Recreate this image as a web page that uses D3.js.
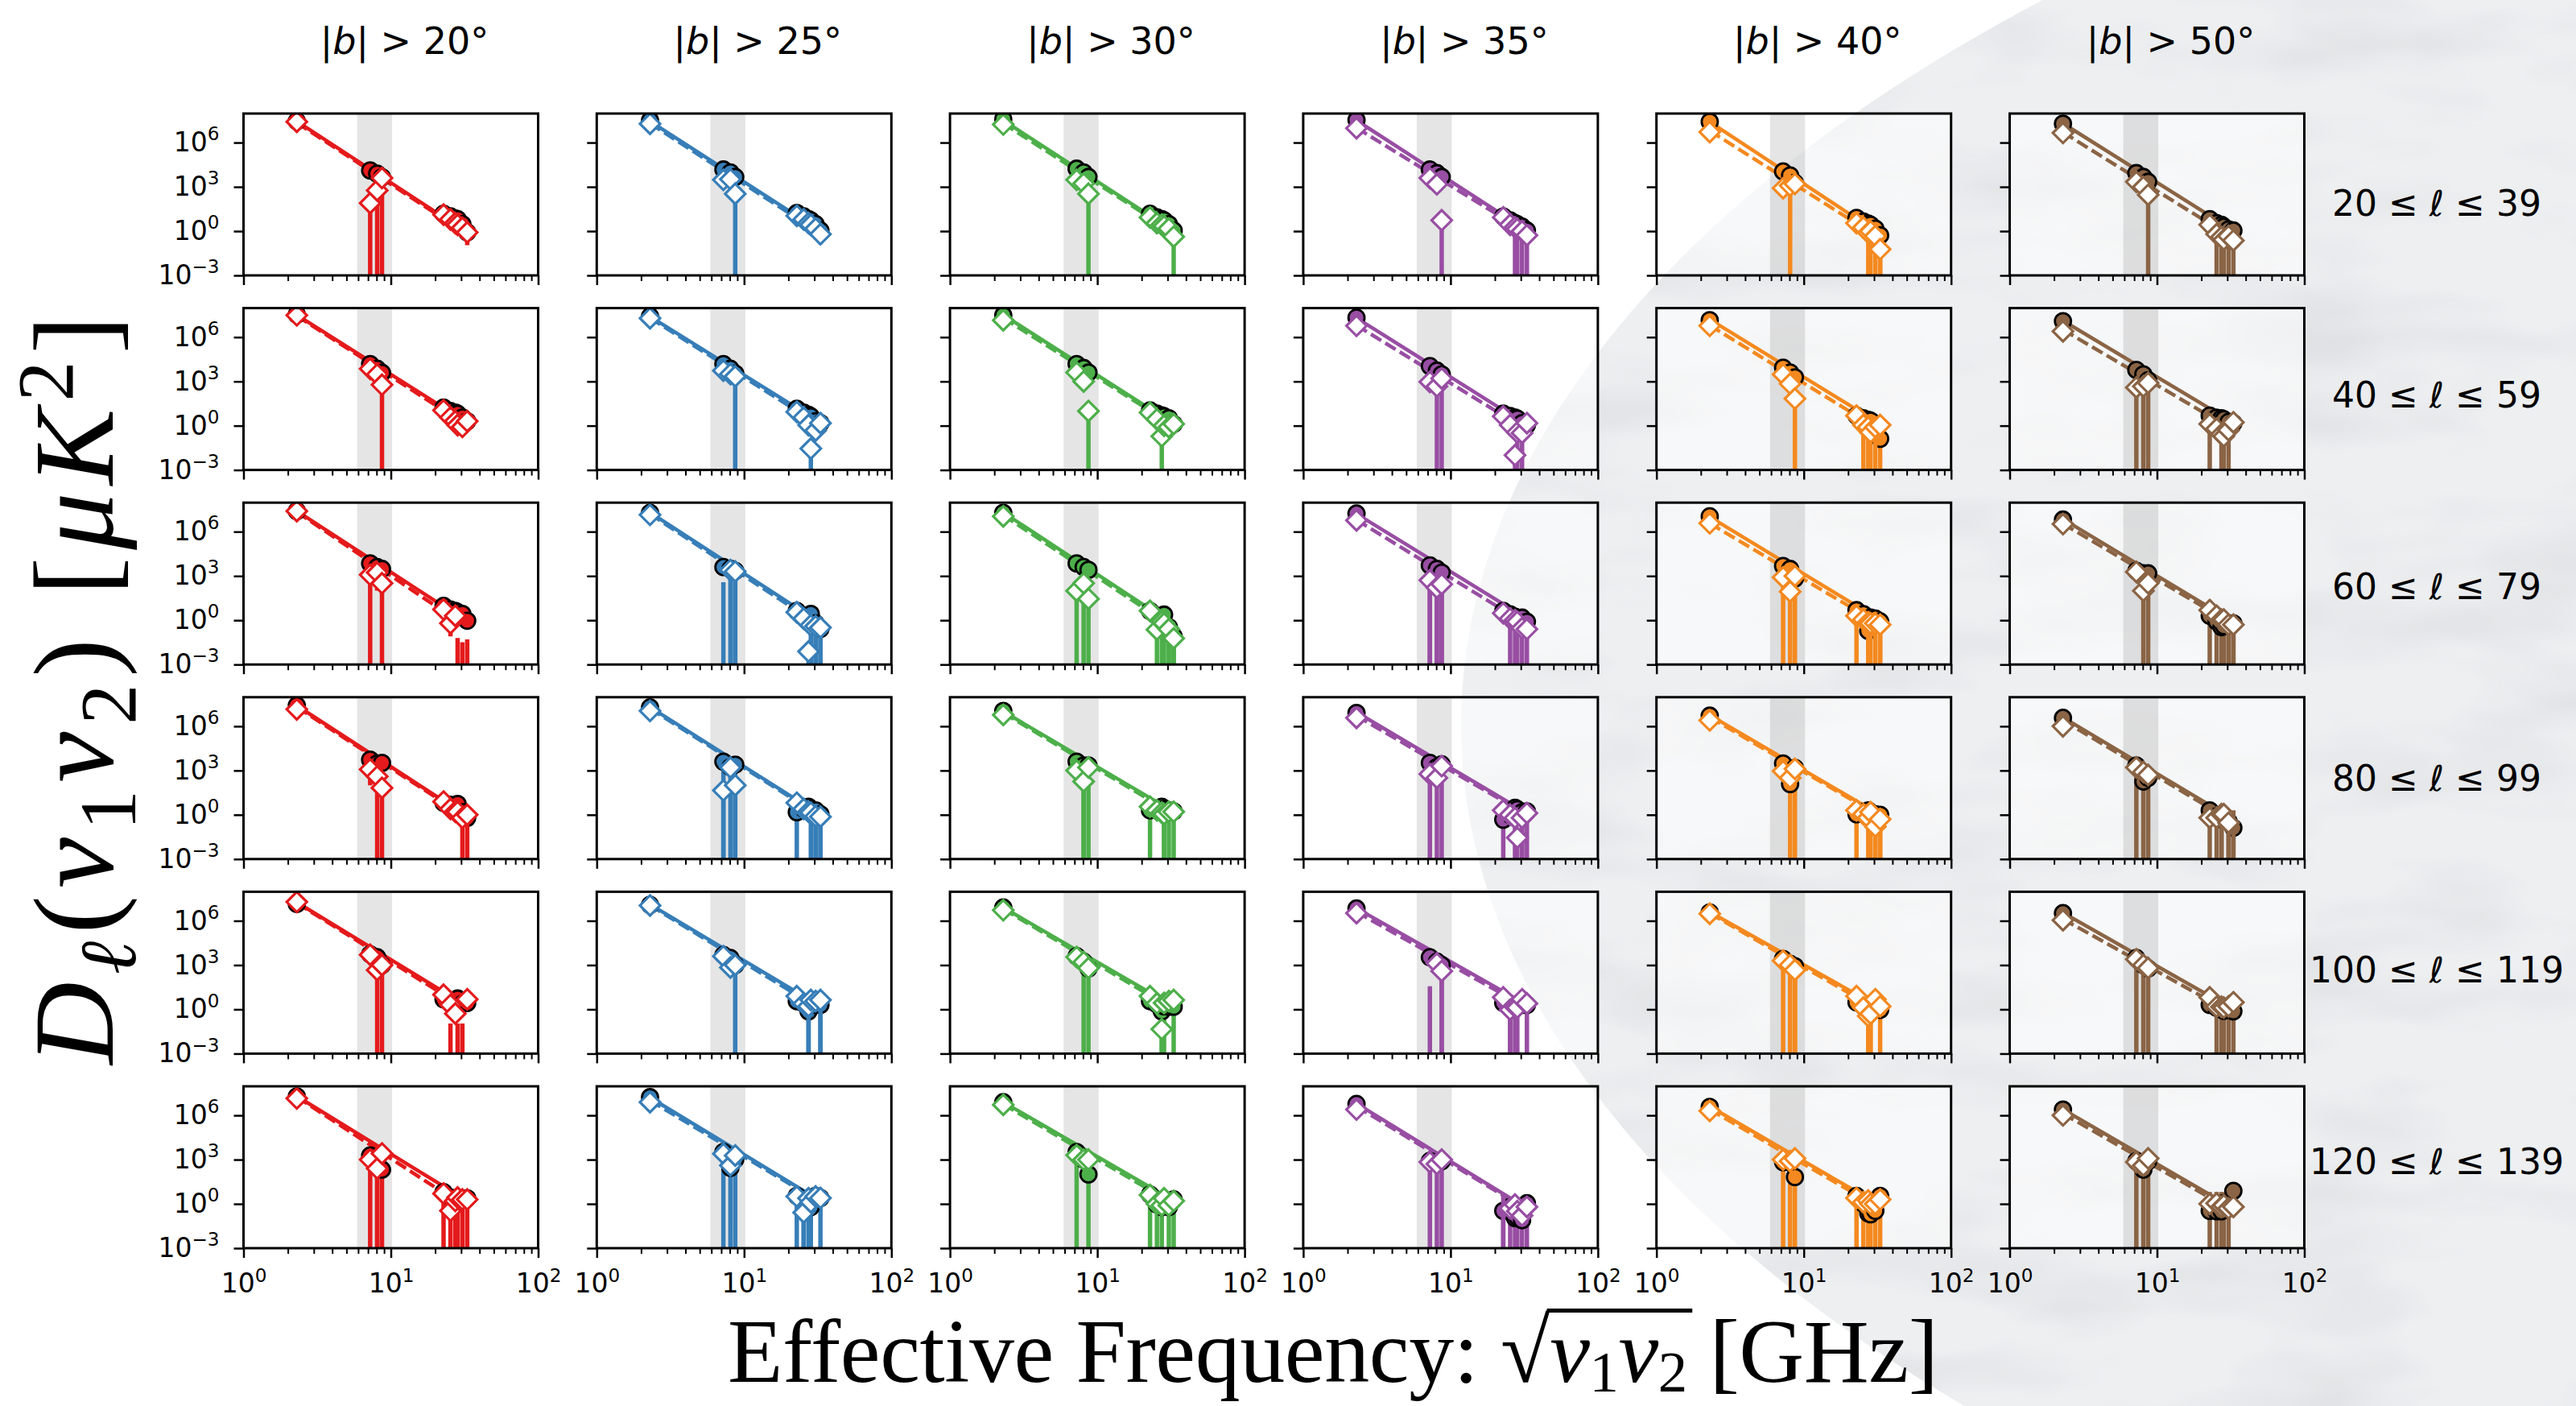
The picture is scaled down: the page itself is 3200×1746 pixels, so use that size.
<!DOCTYPE html>
<html>
<head>
<meta charset="utf-8">
<script src="https://cdn.jsdelivr.net/npm/d3@7"></script>
<style>
  body { margin: 0; background: #fff; }
  svg { display: block; }
</style>
</head>
<body>
<script>
// ---------------------------------------------------------------------------
// Cross-spectra amplitude D_ell versus effective frequency sqrt(nu1*nu2),
// one panel per (multipole bin, latitude cut).
// ---------------------------------------------------------------------------

// Effective frequencies of the spectra [GHz]
const freqs = [2.3, 7.24, 8.08, 8.71, 22.8, 25.4, 27.4, 28.4, 30.6, 33.0];
// Shaded frequency window [GHz]
const bandGHz = [5.9, 10.2];

// Latitude cuts (columns) and multipole bins (rows)
const latCuts = [20, 25, 30, 35, 40, 50];
const ellBins = [[20, 39], [40, 59], [60, 79], [80, 99], [100, 119], [120, 139]];
const cutColors = ["#e41a1c", "#377eb8", "#4daf4a", "#984ea3", "#f4891f", "#8a6445"];

// Axis ticks
const yTicks = [1e-3, 1, 1e3, 1e6];
const xMajor = [1, 10, 100];
const xMinor = [2, 3, 4, 5, 6, 7, 8, 9, 20, 30, 40, 50, 60, 70, 80, 90];

// Circle series: values [uK^2], indexed [ell bin][lat cut][frequency]
const circleVal = [
  [[2.8e7,1.3e4,7.9e3,4.5e3,15,10,7.2,6.5,3.0,0.83],
   [3.2e7,1.5e4,9.5e3,4.7e3,17,10,6.5,5.4,3.0,1.1],
   [3.9e7,1.7e4,9.5e3,4.7e3,15,8.5,6.5,5.4,3.0,1.1],
   [3.4e7,1.5e4,8.5e3,4.7e3,9.8,5.4,3.5,3.0,2.0,1.1],
   [2.6e7,1.1e4,6.0e3,1.9e3,7.8,4.5,3.2,2.7,1.5,0.52],
   [1.9e7,8.5e3,4.7e3,2.2e3,6.5,3.5,2.7,2.0,1.3,1.1]],
  [[3.4e7,1.5e4,7.2e3,3.8e3,17,9.8,7.8,6.5,3.6,2.0],
   [2.6e7,1.5e4,7.2e3,3.4e3,14,7.8,5.4,4.3,2.0,1.5],
   [3.0e7,1.5e4,8.1e3,4.0e3,11,6.5,5.0,4.3,3.2,1.3],
   [2.1e7,1.1e4,5.4e3,3.0e3,6.5,4.5,3.6,3.0,1.5,1.1],
   [1.4e7,8.5e3,4.0e3,1.9e3,4.8,3.2,2.5,2.2,0.63,0.13],
   [1.2e7,6.0e3,3.0e3,1.2e3,4.8,3.5,3.2,2.7,1.8,1.5]],
  [[2.5e7,7.1e3,4.0e3,3.0e3,9.5,5.4,4.3,3.6,2.7,0.93],
   [1.9e7,4.0e3,3.0e3,2.2e3,4.3,2.0,1.4,2.7,0.62,0.26],
   [1.9e7,7.1e3,4.0e3,2.6e3,4.3,2.0,1.6,2.4,0.34,0.079],
   [1.7e7,5.2e3,3.0e3,1.7e3,4.3,2.5,1.7,1.1,1.5,0.79],
   [1.1e7,4.7e3,3.0e3,680,4.8,2.6,0.19,1.5,1.3,0.83],
   [6.6e6,2.2e3,1.5e3,1.5e3,2.0,0.83,0.34,0.41,0.62,0.62]],
  [[2.6e7,5.4e3,3.0e3,3.3e3,6.5,4.8,4.3,5.4,1.5,0.62],
   [1.9e7,4.0e3,1.7e3,2.5e3,1.5,2.5,3.5,2.5,2.0,1.1],
   [1.1e7,4.0e3,2.2e3,2.2e3,2.0,2.5,3.5,2.5,2.0,1.7],
   [7.9e6,3.3e3,1.7e3,2.6e3,0.47,1.0,3.0,2.4,1.5,1.7],
   [5.2e6,3.0e3,120,1.5e3,1.1,1.6,2.0,1.4,1.1,1.0],
   [3.7e6,2.2e3,180,320,2.0,0.79,0.5,0.47,0.35,0.13]],
  [[1.4e7,5.4e3,3.4e3,1.0e3,4.8,-0.11,2.0,5.4,2.4,2.7],
   [1.2e7,4.8e3,3.0e3,1.0e3,3.6,2.5,0.74,2.0,2.0,2.0],
   [7.9e6,4.0e3,1.7e3,580,3.6,2.2,0.74,1.6,1.5,1.5],
   [6.8e6,3.4e3,1.7e3,1.0e3,2.7,1.6,1.3,2.0,2.0,2.0],
   [3.7e6,2.6e3,1.2e3,830,3.0,1.6,1.0,1.3,1.0,0.93],
   [3.3e6,3.0e3,1.0e3,580,2.0,1.3,1.0,0.79,1.0,0.74]],
  [[1.9e7,1.9e3,510,210,6.3,2.7,2.0,1.6,2.4,2.4],
   [1.7e7,3.3e3,280,1.0e3,3.5,2.0,1.3,0.62,3.5,2.5],
   [7.8e6,3.3e3,1.0e3,100,4.3,0.93,0.62,2.0,0.62,2.0],
   [5.9e6,810,630,790,0.34,0.62,0.11,0.13,0.079,1.1],
   [3.7e6,680,630,66,3.5,1.0,0.23,0.2,0.34,3.5],
   [2.5e6,790,210,790,0.34,0.32,0.32,1.1,0.62,7.6]]
];
// Circle series: 1-sigma errors (0 = negligible)
const circleErr = [
  [[0,0,0,0,0,0,0,0,0,0],
   [0,0,0,0,0,0,0,0,0,0],
   [0,0,0,0,0,0,0,0,0,0],
   [0,0,0,0,0,0,0,0,0,0],
   [0,0,0,0,0,0,0,0,0,1.0],
   [0,0,0,0,0,0,0,0,0,0]],
  [[0,0,0,0,0,0,0,0,0,0],
   [0,0,0,0,0,0,0,0,0,0],
   [0,0,0,0,0,0,0,0,0,0],
   [0,0,0,0,0,0,0,0,0,0],
   [0,0,0,0,0,0,0,0,0,0.26],
   [0,0,0,0,0,0,0,0,0,0]],
  [[0,0,0,0,0,0,0,0,0,0],
   [0,0,6000,4400,0,0,0,0,1.2,0.52],
   [0,0,0,0,0,0,0,0,0.68,0.16],
   [0,10400,6000,3400,0,0,0,0,0,0],
   [0,0,0,0,0,0,0.38,0,0,1.7],
   [0,0,0,0,4,1.6,0.68,0.82,1.2,1.2]],
  [[0,0,0,0,0,0,0,0,0,0],
   [0,8000,3400,5000,3.0,0,0,0,4,2.2],
   [0,0,4400,4400,4,0,0,5,4,3.4],
   [0,6600,3400,5200,0.94,0,0,0,3,3.4],
   [0,0,240,3000,2.2,0,0,0,2.2,2],
   [0,4400,360,640,4,1.6,1,0,0.7,0.26]],
  [[0,0,0,0,0,0.22,0,0,0,0],
   [0,0,0,2000,0,0,1.5,0,0,4],
   [0,0,3400,1200,0,0,1.5,3.2,0,3],
   [0,0,0,2000,0,3.2,2.6,4,0,4],
   [0,5200,2400,1700,0,0,2,2.6,0,1.9],
   [0,6000,2000,1200,0,2.6,2,1.6,2,1.5]],
  [[0,3800,1000,420,12.6,5.4,4,3.2,4.8,4.8],
   [0,6600,560,2000,7,4,2.6,1.2,0,5],
   [0,6600,0,200,8.6,1.9,1.2,0,1.2,4],
   [0,1600,1300,1600,0.68,1.2,0.22,0.26,0.16,2.2],
   [0,1400,1300,130,7,2,0.46,0.4,0.68,7],
   [0,1600,420,1600,6.0,6.0,6.0,5.2,5.7,0]]
];

// Diamond series: values [uK^2], indexed [ell bin][lat cut][frequency]
const diamondVal = [
  [[2.6e7,79,580,4.0e3,13,6.3,3.5,2.7,1.7,0.83],
   [1.9e7,3.0e3,3.3e3,340,11,6.3,3.5,2.7,1.5,0.62],
   [1.7e7,3.0e3,1.7e3,340,8.5,3.5,2.7,2.2,1.5,0.42],
   [9.5e6,4.0e3,1.5e3,5.4,8.5,2.7,1.8,1.4,1.0,0.52],
   [5.2e6,810,1.2e3,1.6e3,3.5,1.8,0.79,1.0,0.47,0.059],
   [4.5e6,2.2e3,1.0e3,290,2.7,0.62,0.40,0.26,0.47,0.23]],
  [[3.0e7,7.2e3,3.0e3,590,11,3.6,2.0,1.1,0.83,2.0],
   [1.9e7,5.4e3,3.2e3,2.2e3,8.7,3.6,1.1,0.028,0.47,1.5],
   [1.4e7,4.0e3,1.0e3,9.8,7.8,2.7,0.19,1.0,0.79,1.3],
   [5.9e6,930,460,1.6e3,4.3,1.1,0.010,0.35,0.32,1.5],
   [5.9e6,3.0e3,690,68,4.8,1.1,0.79,0.35,0.79,1.1],
   [2.5e6,390,460,790,1.3,0.63,0.26,0.19,0.5,1.7]],
  [[2.5e7,1.2e3,1.7e3,320,5.4,0.62,2.0,-0.063,-0.032,-0.05],
   [1.4e7,-380,2.5e3,2.0e3,3.5,1.3,0.0076,0.46,0.40,0.32],
   [1.1e7,98,320,28,4.3,0.23,0.79,0.62,0.25,0.059],
   [5.9e6,510,160,280,3.0,1.3,1.0,0.79,0.29,0.25],
   [3.7e6,810,87,1.0e3,2.0,1.1,0.72,0.62,0.62,0.5],
   [3.3e6,1.9e3,98,320,4.8,2.0,1.1,1.1,0.5,0.5]],
  [[1.4e7,1.2e3,400,66,7.8,2.5,1.6,1.6,0.62,1.0],
   [1.1e7,45,1.6e3,100,6.5,2.5,1.6,1.4,0.79,0.74],
   [5.9e6,1.0e3,180,1.6e3,3.5,2.0,1.4,1.1,1.6,1.6],
   [3.7e6,580,320,2.0e3,2.0,1.0,0.62,0.028,0.62,1.3],
   [2.5e6,910,320,1.3e3,2.0,1.1,0.63,1.5,0.16,0.5],
   [1.0e6,1.6e3,790,500,0.63,0.63,1.1,1.1,0.29,-2.0]],
  [[1.9e7,5.0e3,460,1.0e3,9.8,2.0,0.52,-0.11,-0.11,4.8],
   [1.1e7,4.0e3,690,1.0e3,7.8,2.4,1.6,4.3,3.6,4.3],
   [5.2e6,3.5e3,1.6e3,630,7.8,2.5,0.045,2.7,3.6,4.3],
   [3.3e6,-37,1.3e3,390,6.5,0.93,1.5,1.3,4.8,2.5],
   [3.0e6,2.0e3,1.0e3,460,7.8,1.3,0.35,0.5,4.8,1.6],
   [1.1e6,2.5e3,1.0e3,630,6.5,1.5,1.5,1.3,1.6,3.0]],
  [[1.4e7,1.0e3,250,2.6e3,5.0,0.34,1.6,2.7,2.0,2.0],
   [7.8e6,2.5e3,400,1.9e3,3.2,0.26,2.4,1.3,3.2,2.5],
   [5.2e6,2.0e3,1.0e3,1.0e3,4.0,1.0,0.79,2.4,0.79,1.6],
   [2.5e6,680,500,1.0e3,-4.8,0.5,0.91,0.32,0.16,0.63],
   [2.0e6,1.0e3,790,1.2e3,2.5,1.3,1.7,1.0,1.0,2.0],
   [1.0e6,680,400,1.2e3,1.0,1.1,0.63,0.81,0.5,0.63]]
];
// Diamond series: 1-sigma errors (0 = negligible)
const diamondErr = [
  [[0,160,1200,8000,0,0,0,0,0,0.72],
   [0,0,0,680,0,0,0,0,0,0.49],
   [0,0,0,680,0,0,0,0,0,0.84],
   [0,0,0,11,0,0,3.6,2.8,2,1.0],
   [0,0,2400,0,0,0,1.6,2,0.94,0.12],
   [0,0,0,580,0,1.2,0.8,0.52,0.94,0.46]],
  [[0,0,0,1200,0,0,0,0,0,0],
   [0,0,0,4400,0,0,0,0.056,0,0],
   [0,0,0,20,0,0,0.4,0,0,0],
   [0,0,920,3200,0,0,0.02,0.7,0.64,0],
   [0,0,0,140,0,2.2,1.6,0.7,1.6,0],
   [0,780,920,1600,2.6,0,0.52,0.4,1.0,0]],
  [[0,2400,1600,640,0,0.54,0,0.126,0.064,0.1],
   [0,760,0,4000,0,0,0.015,0.92,0.8,0.64],
   [0,200,640,56,0,0.46,1.6,1.2,0.5,0.12],
   [0,1000,320,560,0,2.6,2,1.6,0.58,0.5],
   [0,1600,170,2000,4,0,1.4,1.2,1.2,1.0],
   [0,0,200,640,0,0,0,0,1.0,1.0]],
  [[0,1100,800,130,0,0,0,0,1.2,2],
   [0,90,0,200,0,0,0,2.8,1.6,1.5],
   [0,0,360,0,0,0,0,2.2,0,0],
   [0,0,0,0,0,0,1.2,0.056,1.2,0],
   [0,0,0,0,0,0,1.3,3,0.32,1],
   [0,0,0,0,0,0,2.2,0,0.58,4.0]],
  [[0,0,920,2000,0,0,0,0.22,0.22,0],
   [0,0,0,0,0,0,3.2,0,0,8.6],
   [0,0,0,0,0,0,0.09,0,0,0],
   [0,74,0,780,0,1.9,0,0,0,0],
   [0,0,0,920,0,0,0.7,1,0,0],
   [0,0,0,0,0,0,0,0,0,0]],
  [[0,0,500,0,0,0,0,0,0,0],
   [0,0,0,0,0,0.52,0,0,0,0],
   [0,0,0,0,0,0,0,0,0,0],
   [0,0,0,0,9.6,0,0,0,0,0],
   [0,0,0,0,0,0,0,0,0,0],
   [0,0,0,0,0,0,0,0,0,0]]
];

// Power-law fits: model value at the lowest and highest effective frequency
const solidFit = [
  [[2.8e7,0.79],[2.8e7,1.0],[3.2e7,1.0],[3.2e7,1.1],[2.5e7,0.63],[2.0e7,1.1]],
  [[3.2e7,1.6],[2.5e7,1.6],[3.2e7,1.3],[2.0e7,1.1],[1.6e7,1.3],[1.3e7,1.6]],
  [[2.5e7,0.79],[2.0e7,0.63],[2.0e7,0.5],[1.6e7,1.3],[1.0e7,1.0],[7.1e6,0.79]],
  [[2.5e7,0.79],[2.0e7,1.0],[1.0e7,1.6],[8.9e6,1.3],[5.6e6,1.0],[4.0e6,0.5]],
  [[1.8e7,1.6],[1.3e7,1.6],[7.9e6,1.6],[7.1e6,2.0],[4.0e6,1.3],[3.5e6,1.0]],
  [[2.0e7,1.6],[1.6e7,1.6],[7.9e6,1.6],[6.3e6,0.5],[4.0e6,0.79],[2.5e6,0.5]]
];
const dashedFit = [
  [[2.2e7,0.63],[2.0e7,0.71],[2.0e7,0.79],[1.0e7,0.79],[6.3e6,0.32],[5.0e6,0.32]],
  [[2.8e7,1.0],[2.0e7,1.0],[2.0e7,1.0],[6.3e6,0.5],[6.3e6,0.5],[3.2e6,0.5]],
  [[2.2e7,0.32],[1.6e7,0.4],[1.3e7,0.32],[6.3e6,0.5],[3.7e6,0.5],[3.5e6,0.5]],
  [[2.0e7,0.63],[1.6e7,0.79],[7.9e6,1.1],[5.0e6,1.0],[4.0e6,0.79],[2.5e6,0.32]],
  [[1.6e7,1.0],[1.1e7,1.0],[6.3e6,1.0],[4.0e6,1.3],[3.2e6,0.79],[1.3e6,0.5]],
  [[1.8e7,0.5],[1.0e7,1.3],[5.6e6,1.0],[4.0e6,0.4],[2.5e6,0.5],[1.3e6,0.32]]
];

// ---------------------------------------------------------------------------
// Layout
// ---------------------------------------------------------------------------
const W = 3200, H = 1746;
const panelW = 366, panelH = 201;
const left0 = 302.5, colStep = 438.8;
const top0 = 141, rowStep = 241.6;
const yDomain = [1e-3, 9.3e7];

const x = d3.scaleLog().domain([1, 100]).range([0, panelW]);
const y = d3.scaleLog().domain(yDomain).range([panelH, 0]);

const svg = d3.select("body").append("svg")
  .attr("width", W).attr("height", H)
  .attr("xmlns", "http://www.w3.org/2000/svg");

svg.append("rect").attr("width", W).attr("height", H).attr("fill", "#ffffff");

const defs = svg.append("defs");

// Streaky texture for the sky-map backdrop
const tex = defs.append("filter").attr("id", "streaks")
  .attr("filterUnits", "userSpaceOnUse")
  .attr("x", 0).attr("y", 0).attr("width", W).attr("height", H);
tex.append("feTurbulence").attr("type", "fractalNoise")
  .attr("baseFrequency", "0.004 0.011").attr("numOctaves", 3).attr("seed", 11)
  .attr("result", "noise");
tex.append("feColorMatrix").attr("in", "noise").attr("type", "matrix")
  .attr("values", "0 0 0 0 0.45  0 0 0 0 0.46  0 0 0 0 0.48  0.5 0 0 0 -0.22")
  .attr("result", "streak");
tex.append("feComposite").attr("in", "streak").attr("in2", "SourceGraphic").attr("operator", "in");

defs.append("clipPath").attr("id", "axclip")
  .append("rect").attr("width", panelW).attr("height", panelH);

// Backdrop: part of an all-sky map in an elliptical projection
const sky = { cx: 4501, cy: 900, rx: 2686, ry: 1319 };
svg.append("ellipse").attr("cx", sky.cx).attr("cy", sky.cy).attr("rx", sky.rx).attr("ry", sky.ry)
  .attr("fill", "#edeff1");
svg.append("ellipse").attr("cx", sky.cx).attr("cy", sky.cy).attr("rx", sky.rx).attr("ry", sky.ry)
  .attr("fill", "#000").attr("filter", "url(#streaks)");

const diamondPath = s => `M0,${-s}L${s},0L0,${s}L${-s},0Z`;
const fitLine = d3.line().x(d => x(d[0])).y(d => y(d[1]));

function powerLabel(sel) {
  sel.each(function (d) {
    const t = d3.select(this).text(null);
    const e = Math.round(Math.log10(d));
    t.append("tspan").text("10");
    t.append("tspan").attr("dy", "-0.6em").attr("font-size", "0.7em")
      .text(e < 0 ? "\u2212" + (-e) : String(e));
  });
}

function drawBars(plot, vals, errs, color) {
  const g = plot.append("g").attr("stroke", color).attr("stroke-width", 5.5);
  vals.forEach((v, i) => {
    const s = errs[i];
    if (!s) return;
    const hi = v + s, lo = v - s;
    if (hi <= 0) return;
    g.append("line")
      .attr("x1", x(freqs[i])).attr("x2", x(freqs[i]))
      .attr("y1", lo > yDomain[0] ? y(lo) : panelH + 4)
      .attr("y2", y(Math.min(hi, yDomain[1] * 10)));
  });
}

ellBins.forEach((bin, r) => {
  latCuts.forEach((cut, c) => {
    const color = cutColors[c];
    const g = svg.append("g")
      .attr("transform", `translate(${left0 + c * colStep},${top0 + r * rowStep})`);

    // axes face and shaded window
    g.append("rect").attr("width", panelW).attr("height", panelH)
      .attr("fill", "#fff").attr("fill-opacity", 0.55);
    g.append("rect")
      .attr("x", x(bandGHz[0])).attr("width", x(bandGHz[1]) - x(bandGHz[0]))
      .attr("height", panelH).attr("fill", "#000").attr("fill-opacity", 0.1);

    const plot = g.append("g").attr("clip-path", "url(#axclip)");
    const fLo = freqs[0], fHi = freqs[freqs.length - 1];

    // power-law fits
    plot.append("path")
      .attr("d", fitLine([[fLo, solidFit[r][c][0]], [fHi, solidFit[r][c][1]]]))
      .attr("fill", "none").attr("stroke", color).attr("stroke-width", 4.5);
    plot.append("path")
      .attr("d", fitLine([[fLo, dashedFit[r][c][0]], [fHi, dashedFit[r][c][1]]]))
      .attr("fill", "none").attr("stroke", color).attr("stroke-width", 4.5)
      .attr("stroke-dasharray", "15 6");

    // circle series
    const cv = circleVal[r][c];
    drawBars(plot, cv, circleErr[r][c], color);
    plot.append("g").selectAll("circle")
      .data(cv.map((v, i) => [freqs[i], v]).filter(d => d[1] > 0))
      .join("circle")
      .attr("cx", d => x(d[0])).attr("cy", d => y(d[1])).attr("r", 10)
      .attr("fill", color).attr("stroke", "#000").attr("stroke-width", 2.8);

    // diamond series
    const dv = diamondVal[r][c];
    drawBars(plot, dv, diamondErr[r][c], color);
    plot.append("g").selectAll("path")
      .data(dv.map((v, i) => [freqs[i], v]).filter(d => d[1] > 0))
      .join("path")
      .attr("transform", d => `translate(${x(d[0])},${y(d[1])})`)
      .attr("d", diamondPath(12.5))
      .attr("fill", "#fff").attr("stroke", color).attr("stroke-width", 3.2);

    // spines
    g.append("rect").attr("width", panelW).attr("height", panelH)
      .attr("fill", "none").attr("stroke", "#000").attr("stroke-width", 3);

    // y axis
    const ya = g.append("g")
      .call(d3.axisLeft(y).tickValues(yTicks).tickSize(12).tickPadding(18).tickFormat(() => ""))
      .attr("font-size", 33).attr("font-family", "DejaVu Sans");
    ya.select(".domain").remove();
    ya.selectAll(".tick line").attr("stroke-width", 2.5);
    if (c === 0) ya.selectAll(".tick text").call(powerLabel);

    // x axis (major + minor)
    const xa = g.append("g").attr("transform", `translate(0,${panelH})`)
      .call(d3.axisBottom(x).tickValues(xMajor).tickSize(12).tickPadding(20).tickFormat(() => ""))
      .attr("font-size", 33).attr("font-family", "DejaVu Sans");
    xa.select(".domain").remove();
    xa.selectAll(".tick line").attr("stroke-width", 2.5);
    if (r === ellBins.length - 1) xa.selectAll(".tick text").call(powerLabel);

    const xm = g.append("g").attr("transform", `translate(0,${panelH})`)
      .call(d3.axisBottom(x).tickValues(xMinor).tickSize(7).tickFormat(() => ""));
    xm.select(".domain").remove();
    xm.selectAll(".tick line").attr("stroke-width", 2);
  });
});

// Column titles
latCuts.forEach((cut, c) => {
  const t = svg.append("text")
    .attr("x", left0 + c * colStep + panelW / 2 + 17).attr("y", 67)
    .attr("text-anchor", "middle").attr("font-family", "DejaVu Sans").attr("font-size", 46);
  t.append("tspan").text("|");
  t.append("tspan").attr("font-style", "italic").text("b");
  t.append("tspan").text(`| > ${cut}\u00B0`);
});

// Row labels
const rowLabelY0 = 268, rowLabelStep = 238;
ellBins.forEach(([lo, hi], r) => {
  const t = svg.append("text")
    .attr("x", 3027).attr("y", rowLabelY0 + r * rowLabelStep)
    .attr("text-anchor", "middle").attr("font-family", "DejaVu Sans").attr("font-size", 44);
  t.append("tspan").text(`${lo} \u2264 `);
  t.append("tspan").attr("font-style", "italic").text("\u2113");
  t.append("tspan").text(` \u2264 ${hi}`);
});

// Text runs with sub/superscripts: [text, italic, baseline shift px, scale]
function addRuns(text, runs, size) {
  let prev = 0;
  runs.forEach(([s, it, shift, scale]) => {
    const ts = text.append("tspan").text(s)
      .attr("font-size", size * scale)
      .attr("dy", shift - prev);
    if (it) ts.attr("font-style", "italic");
    prev = shift;
  });
}

// Y-axis label
const ySize = 142;
const ylab = svg.append("text")
  .attr("transform", "translate(140,857) rotate(-90)")
  .attr("text-anchor", "middle")
  .attr("font-family", "Liberation Serif, DejaVu Serif, serif")
  .attr("textLength", 930).attr("lengthAdjust", "spacing");
addRuns(ylab, [
  ["D", true, 0, 1], ["\u2113", true, 28, 0.7], ["(", false, 0, 1],
  ["\u03BD", true, 0, 1], ["1", false, 28, 0.7], ["\u03BD", true, 0, 1], ["2", false, 28, 0.7],
  [")", false, 0, 1], [" [", false, 0, 1], ["\u03BC", true, 0, 1], ["K", true, 0, 1],
  ["2", false, -50, 0.7], ["]", false, 0, 1]
], ySize);

// X-axis label
const xSize = 112;
const xBase = 1716;
const xlab = svg.append("text")
  .attr("x", 1656).attr("y", xBase)
  .attr("text-anchor", "middle")
  .attr("font-family", "Liberation Serif, DejaVu Serif, serif")
  .attr("textLength", 1504).attr("lengthAdjust", "spacing");
const prefix = "Effective Frequency: ";
addRuns(xlab, [
  [prefix, false, 0, 1], ["\u221A", false, 0, 1],
  ["\u03BD", true, 0, 1], ["1", false, 12, 0.65], ["\u03BD", true, 0, 1], ["2", false, 12, 0.65],
  [" [GHz]", false, 0, 1]
], xSize);

// vinculum of the square root over nu1 nu2, level with the top of the radical
const node = xlab.node();
const iRad = prefix.length;
const rad = node.getExtentOfChar(iRad);
const last = node.getExtentOfChar(iRad + 4);
const vy = xBase - 0.79 * xSize;
svg.append("line")
  .attr("x1", rad.x + rad.width - 4).attr("x2", last.x + last.width + 6)
  .attr("y1", vy).attr("y2", vy)
  .attr("stroke", "#000").attr("stroke-width", 5);
</script>
</body>
</html>
